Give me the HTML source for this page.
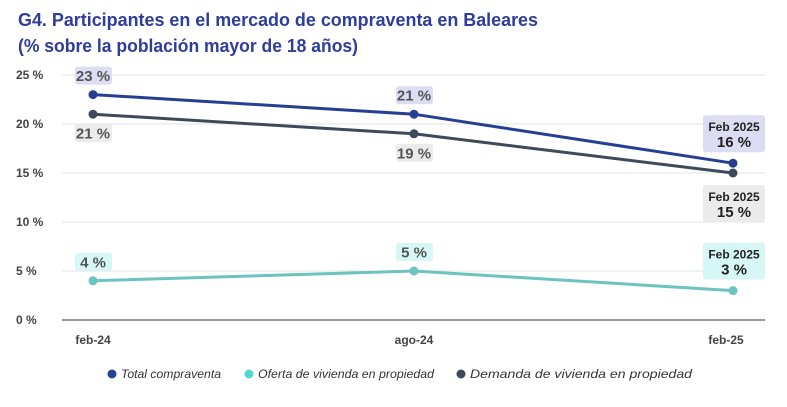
<!DOCTYPE html>
<html><head><meta charset="utf-8"><style>
body{margin:0;background:#fff;font-family:"Liberation Sans",sans-serif}
svg{display:block}
</style></head><body>
<svg id="c" width="787" height="407" xmlns="http://www.w3.org/2000/svg">
<text x="18" y="26" font-size="18" font-weight="bold" fill="#2e3d9b" textLength="520" lengthAdjust="spacingAndGlyphs">G4. Participantes en el mercado de compraventa en Baleares</text>
<text x="18" y="52" font-size="18" font-weight="bold" fill="#2e3d9b" textLength="340" lengthAdjust="spacingAndGlyphs">(% sobre la población mayor de 18 años)</text>
<g id="grid"></g><g id="series"></g><g id="labels"></g>
<g font-size="12" font-style="italic" fill="#333">
<circle cx="112" cy="374" r="4.5" fill="#273f93"/><text x="121" y="378" textLength="100" lengthAdjust="spacingAndGlyphs">Total compraventa</text>
<circle cx="249" cy="374" r="4.5" fill="#4fd6cf"/><text x="258" y="378" textLength="176" lengthAdjust="spacingAndGlyphs">Oferta de vivienda en propiedad</text>
<circle cx="461" cy="374" r="4.5" fill="#3d4a5a"/><text x="470" y="378" textLength="222" lengthAdjust="spacingAndGlyphs">Demanda de vivienda en propiedad</text>
</g>
</svg>
<script>
const categories=["feb-24","ago-24","feb-25"];
const yTicks=[0,5,10,15,20,25];
const total=[23,21,16];
const oferta=[4,5,3];
const demanda=[21,19,15];
const ns="http://www.w3.org/2000/svg";
const xs=[93,414,733];
const x=i=>xs[i];
const y=v=>320-v*9.8;
function el(t,a,p,txt){const e=document.createElementNS(ns,t);for(const k in a)e.setAttribute(k,a[k]);if(txt!=null)e.textContent=txt;document.getElementById(p).appendChild(e);return e;}
yTicks.forEach(t=>{
 const g=el("line",{x1:62,x2:765,y1:y(t),y2:y(t),stroke:t===0?"#999":"#e3e3e3","stroke-width":t===0?2:1},"grid");
 
 
 const l=el("text",{x:16,y:y(t)+4,"font-size":12,"font-weight":"bold",fill:"#444"},"grid",t+" %");
 
 
});
categories.forEach((c,i)=>{
 const l=el("text",{x:x(i)+(i===2?-7:0),y:344,"font-size":12,"font-weight":"bold",fill:"#444","text-anchor":"middle"},"grid",c);
 
 
});
const series=[[total,"#273f93","#dcdcf3","total-compraventa",-1],[demanda,"#3d4a5a","#ebebeb","demanda-vivienda",1],[oferta,"#6cc3bf","#d6f7f5","oferta-vivienda",-1]];
series.forEach(([d,col,bg,name,dir])=>{
 const p=el("polyline",{points:d.map((v,i)=>x(i)+","+y(v)).join(" "),fill:"none",stroke:col,"stroke-width":3},"series");
 
 
 d.forEach((v,i)=>{
  const c=el("circle",{cx:x(i),cy:y(v),r:4.5,fill:col},"series");
  
  
  if(i<2){
   const cy=y(v)+dir*19;
   const r=el("rect",{x:x(i)-18,y:cy-9,width:37,height:18,rx:3,fill:bg},"labels");
   
   
   const t=el("text",{x:x(i),y:cy+5.5,"font-size":15,"font-weight":"bold",fill:"#555","text-anchor":"middle"},"labels",v+" %");
   
   
  } else {
   const cy=name==="demanda-vivienda"?y(v)+30:y(v)-30;
   const r=el("rect",{x:x(i)-30,y:cy-18,width:62,height:37,rx:3,fill:bg},"labels");
   
   
   const t1=el("text",{x:x(i)+1,y:cy-2,"font-size":12,"font-weight":"bold",fill:"#222","text-anchor":"middle"},"labels","Feb 2025");
   
   
   const t2=el("text",{x:x(i)+1,y:cy+14,"font-size":15,"font-weight":"bold",fill:"#222","text-anchor":"middle"},"labels",v+" %");
   
   
  }
 });
});
</script>
</body></html>
